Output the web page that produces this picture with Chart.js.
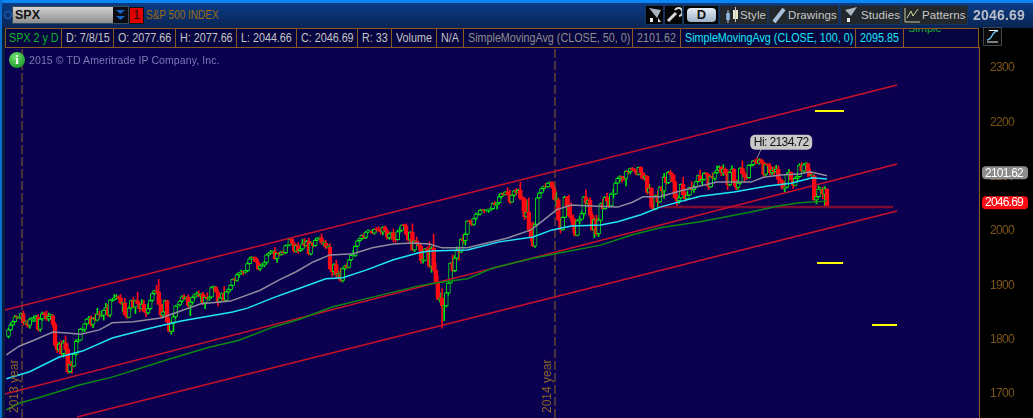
<!DOCTYPE html>
<html>
<head>
<meta charset="utf-8">
<title>SPX</title>
<script src="https://cdn.jsdelivr.net/npm/chart.js@4"></script>
<style>
html,body{margin:0;padding:0;background:#000;width:1033px;height:418px;overflow:hidden;font-family:"Liberation Sans",Arial,sans-serif}
#wrap{position:relative;width:1033px;height:418px;overflow:hidden}
canvas{position:absolute;left:0;top:0}
.a{position:absolute;white-space:nowrap}
#head{left:0;top:0;width:1033px;height:28px;background:linear-gradient(#0b3f8c,#0a2554)}
#stripe{left:0;top:0;width:1033px;height:3px;background:#0a86f2}
#lstripe{left:0;top:0;width:2px;height:418px;background:#0a6fd0}
#lfill{left:2px;top:28px;width:3px;height:390px;background:#08203f}
#row{left:5px;top:28px;width:974px;height:19px;background:#07053f}
.cell{position:absolute;top:28px;height:18px;border:1px solid #8a5a20;border-width:1px 1px 1px 0;font-size:12.5px;line-height:18px;color:#c4c4c4;padding-left:4px;overflow:hidden;white-space:nowrap}
.s{display:inline-block;transform:scaleX(.86);transform-origin:0 50%}
.btn{position:absolute;top:6px;height:18px;background:#23282c;color:#c8c8c8;font-size:11.5px;letter-spacing:.1px;line-height:18px;white-space:nowrap;box-shadow:0 0 0 1px #16345c}
</style>
</head>
<body>
<div id="wrap">
<canvas id="c" width="1033" height="418"></canvas>
<div class="a" id="head"></div>
<div class="a" id="stripe"></div>
<div class="a" id="lstripe"></div>
<div class="a" id="lfill"></div>
<div class="a" style="left:4px;top:11px;width:6px;height:6px;border:1px solid #1f6fd0;border-radius:50%"></div>
<div class="a" style="left:13px;top:7px;width:115px;height:16px;background:linear-gradient(#d2d2d2,#8e8e8e);box-shadow:0 0 0 1px #3a4a5a;font-weight:bold;font-size:12.5px;line-height:16px;color:#111;padding-left:2px;box-sizing:border-box">SPX</div>
<div class="a" style="left:113px;top:7px;width:15px;height:16px;background:#0c0c14">
 <svg width="15" height="16"><path d="M3 3h9l-4.5 4zM3 9h9l-4.5 4z" fill="#1a66c8"/></svg>
</div>
<div class="a" style="left:130px;top:8px;width:13px;height:15px;background:#e00000;box-shadow:0 0 0 1px #111;color:#111;font-size:12.5px;line-height:15px;text-align:center">1</div>
<div class="a" style="left:146px;top:8px;font-size:12.5px;line-height:15px;color:#9c6a10;transform:scaleX(.8);transform-origin:0 50%">S&amp;P 500 INDEX</div>

<div class="a" id="row"></div>
<div class="a" style="left:5px;top:28px;width:1px;height:19px;background:#8a5a20"></div>
<div class="cell" style="left:5px;width:52px;color:#0fb02a"><span class="s">SPX 2 y D</span></div>
<div class="cell" style="left:62px;width:47px"><span class="s">D: 7/8/15</span></div>
<div class="cell" style="left:114px;width:57px"><span class="s">O: 2077.66</span></div>
<div class="cell" style="left:176px;width:56px"><span class="s">H: 2077.66</span></div>
<div class="cell" style="left:237px;width:55px"><span class="s">L: 2044.66</span></div>
<div class="cell" style="left:297px;width:56px"><span class="s">C: 2046.69</span></div>
<div class="cell" style="left:358px;width:29px"><span class="s">R: 33</span></div>
<div class="cell" style="left:392px;width:40px"><span class="s">Volume</span></div>
<div class="cell" style="left:437px;width:22px"><span class="s">N/A</span></div>
<div class="cell" style="left:464px;width:164px;color:#8c8c8c"><span class="s">SimpleMovingAvg (CLOSE, 50, 0)</span></div>
<div class="cell" style="left:633px;width:43px;color:#8c8c8c"><span class="s">2101.62</span></div>
<div class="cell" style="left:681px;width:170px;color:#14e6f5"><span class="s">SimpleMovingAvg (CLOSE, 100, 0)</span></div>
<div class="cell" style="left:856px;width:43px;color:#14e6f5"><span class="s">2095.85</span></div>
<div class="cell" style="left:904px;width:70px;background:#07053f;color:#0fb02a;line-height:6px;font-size:11px"><span style="position:relative;top:-4px">Simple</span></div>

<div class="a" style="left:9px;top:52px;width:16px;height:16px;border-radius:50%;background:radial-gradient(circle at 40% 30%,#6fe06f,#0a8a1a);color:#fff;font:bold 13px/16px 'Liberation Serif',serif;text-align:center">i</div>
<div class="a" style="left:29px;top:53px;font-size:10.5px;line-height:14px;letter-spacing:.1px;color:#7e78b4">2015 © TD Ameritrade IP Company, Inc.</div>

<div class="btn" style="left:646px;width:17px;background:#050505"><svg width="17" height="18"><path d="M3 2l12 2-4 8z" fill="#a8b4c0"/><path d="M4 12h3v4H4zM12 12l3 4h-3z" fill="#e8e8e8"/></svg></div>
<div class="btn" style="left:665px;width:17px;background:#050505"><svg width="17" height="18"><path d="M3 15L11 7" stroke="#d8d8d8" stroke-width="3"/><path d="M10 4a4 4 0 1 1 4 6" stroke="#d8d8d8" stroke-width="2" fill="none"/></svg></div>
<div class="btn" style="left:684px;width:34px;background:#050505"><div style="position:absolute;left:3px;top:2px;width:29px;height:14px;border-radius:4px;background:linear-gradient(#e6edf5,#9fb2c8);color:#111;font:bold 13px/14px 'Liberation Sans';text-align:center">D</div></div>
<div class="btn" style="left:720px;width:47px"><svg width="20" height="18" style="position:absolute;left:2px;top:0"><rect x="4" y="7" width="4" height="7" fill="#6aa0d0"/><rect x="11" y="4" width="5" height="9" fill="#e8e8c8"/><path d="M6 4v13M13.500 1v15" stroke="#c8c8c8"/></svg><span style="position:absolute;left:20px">Style</span></div>
<div class="btn" style="left:769px;width:69px"><svg width="18" height="18" style="position:absolute;left:2px;top:0"><path d="M3 16L13 3" stroke="#a8c0d8" stroke-width="4"/></svg><span style="position:absolute;left:19px">Drawings</span></div>
<div class="btn" style="left:841px;width:59px"><svg width="16" height="18" style="position:absolute;left:2px;top:0"><path d="M2 4l12-3-6 9z" fill="#a8b4c0"/><path d="M4 12h3v4H4z" fill="#e8e8e8"/></svg><span style="position:absolute;left:20px">Studies</span></div>
<div class="btn" style="left:902px;width:65px"><svg width="18" height="18" style="position:absolute;left:2px;top:0"><path d="M1 2v14h15" stroke="#c8c8a0" fill="none"/><path d="M3 12l4-7 2 5 5-7" stroke="#d8d8a0" fill="none"/></svg><span style="position:absolute;left:20px">Patterns</span></div>
<div class="a" style="left:973px;top:7px;font:bold 14px/16px 'Liberation Sans';letter-spacing:.2px;color:#b8bcc4">2046.69</div>
<div class="a" style="left:984px;top:28px;width:17px;height:17px;background:#0a0a0a;box-shadow:0 0 0 1px #3c4650">
 <svg width="17" height="17"><path d="M3 12c6 0 4-9 11-9" stroke="#6ac0f0" stroke-width="1.500" fill="none"/><path d="M3 14h11M5 2.500h9" stroke="#f0f0f0"/></svg>
</div>
</div>
<script>
// daily closes, Dec 2013 .. Jul 2015
const firstOpen = 1806;
const closes = [
 1818,1827,1833,1842,1841,1841,1848,
 1831,1831,1826,1837,1837,1838,1842,1819,1838,1848,1845,1838,1843,1844,1828,1790,1781,1792,1774,1794,1782,
 1741,1755,1751,1773,1797,1799,1819,1819,1829,1838,1840,1828,1839,1836,1847,1845,1845,1854,1859,
 1845,1873,1873,1877,1878,1877,1867,1868,1846,1841,1858,1872,1860,1872,1866,1857,1865,1852,1849,1857,1872,
 1885,1890,1888,1865,1845,1851,1872,1833,1815,1830,1842,1862,1864,1871,1879,1875,1878,1863,1869,1878,1883,
 1883,1881,1884,1867,1878,1875,1878,1896,1897,1888,1870,1877,1885,1872,1888,1892,1900,1911,1909,1920,1923,
 1925,1924,1927,1940,1949,1951,1950,1943,1930,1936,1937,1942,1956,1959,1962,1962,1949,1959,1957,1961,1960,
 1973,1974,1985,1977,1963,1973,1964,1967,1977,1973,1981,1958,1978,1973,1983,1987,1988,1978,1978,1970,1970,1930,
 1925,1938,1920,1920,1909,1931,1936,1933,1947,1955,1955,1972,1982,1986,1992,1988,1998,2000,2000,1996,2003,
 2002,2001,1998,2007,2001,1988,1995,1997,1985,1984,1999,2001,2011,2010,1994,1983,1998,1965,1982,1977,1972,
 1946,1946,1967,1964,1935,1968,1928,1906,1874,1877,1862,1862,1886,1904,1941,1927,1950,1964,1961,1985,1982,1994,2018,
 2017,2012,2023,2031,2031,2038,2039,2038,2039,2039,2041,2051,2048,2052,2063,2069,2067,2072,2067,
 2053,2066,2074,2071,2075,2060,2059,2026,2035,2002,1989,1972,2012,2061,2070,2078,2082,2081,2088,2090,2080,2058,
 2058,2020,2002,2025,2062,2044,2028,2023,2011,1992,2019,2022,2032,2063,2051,2057,2029,2002,2021,1995,
 2020,2050,2041,2062,2055,2046,2068,2068,2088,2097,2100,2099,2097,2110,2109,2115,2113,2110,2104,
 2117,2107,2098,2101,2071,2079,2044,2040,2065,2053,2081,2074,2099,2089,2108,2104,2091,2061,2056,2061,2086,2067,
 2059,2066,2080,2076,2081,2091,2102,2092,2095,2106,2104,2081,2100,2097,2107,2112,2117,2108,2114,2106,2085,
 2108,2114,2089,2080,2088,2116,2105,2099,2098,2121,2122,2129,2127,2125,2131,2126,2104,2123,2120,2107,
 2112,2109,2114,2095,2092,2079,2080,2105,2108,2094,2084,2097,2100,2121,2110,2122,2124,2108,2102,2102,2057,2063,
 2077,2077,2068,2077.66,2046.69
];
const upperWicks = [
 3,4,2,3,2,2,1,
 5,4,5,3,4,6,3,4,2,3,3,8,6,3,2,4,6,3,6,5,13,
 11,6,5,1,3,2,1,3,1,1,3,4,2,8,11,5,7,1,8,
 6,1,2,6,5,3,6,1,8,2,3,1,6,1,15,3,9,8,4,9,2,
 1,1,10,23,9,3,1,1,6,4,5,1,2,1,2,4,1,4,6,1,1,
 5,7,1,3,1,8,2,2,2,1,4,1,1,13,1,2,1,1,3,1,1,
 3,1,1,2,3,2,1,2,4,3,3,2,1,1,2,1,8,1,2,2,3,
 1,1,1,2,3,2,6,5,8,9,2,6,2,1,1,1,1,7,4,5,5,7,
 6,2,8,6,12,1,1,4,1,1,9,1,1,1,1,3,2,2,1,3,1,
 4,6,5,1,2,2,1,1,7,1,3,6,1,1,3,3,1,15,1,7,1,
 2,7,1,4,16,3,26,13,12,9,17,13,1,1,1,15,5,7,5,1,8,3,1,
 2,4,1,2,3,1,1,1,1,1,2,1,3,1,4,1,1,1,8,
 8,1,1,4,2,15,4,3,22,26,14,27,3,1,1,1,1,6,1,1,1,3,
 14,3,4,1,2,2,22,24,7,11,2,4,4,1,13,1,4,5,3,8,
 4,2,9,2,8,7,2,9,2,1,2,1,1,1,1,1,2,2,4,
 1,1,1,2,1,7,1,6,1,9,1,1,7,1,2,4,3,12,9,4,1,13,
 5,6,1,11,4,1,1,10,3,2,2,1,1,7,2,8,3,2,8,2,5,
 1,6,1,5,5,1,13,6,7,1,1,1,3,7.72,2,2,2,1,1,5,
 5,6,7,6,3,2,10,2,5,1,1,3,6,3,5,2,2,1,6,1,1,4,
 6,3,4,4,0
];
const lowerWicks = [
 3,2,2,1,2,2,3,
 4,3,3,5,4,4,4,3,4,3,6,3,4,6,5,3,5,3,3,6,6,
 3,2,13,1,2,2,1,3,4,2,2,3,6,1,2,6,3,9,7,
 2,3,3,1,3,3,2,15,1,2,1,2,1,12,1,6,1,1,7,2,2,
 2,2,2,1,4,5,1,1,1,5,15,3,2,2,3,1,2,3,19,3,3,
 4,2,12,2,10,2,3,1,4,1,8,2,2,1,2,2,1,1,1,2,5,
 3,5,2,2,1,2,6,1,1,3,2,3,3,2,1,3,1,7,3,2,3,
 2,2,1,1,3,2,5,2,2,3,1,2,2,3,1,1,2,2,5,3,1,1,
 8,6,5,8,2,3,3,1,1,2,1,2,1,2,2,2,2,1,1,1,2,
 3,1,4,5,1,3,3,10,5,5,1,2,1,4,2,2,5,1,3,2,6,
 5,5,1,12,2,11,2,1,1,5,41,27,2,4,1,1,2,2,15,1,5,8,1,
 3,2,2,3,2,2,1,5,2,5,2,1,1,8,2,3,2,1,1,
 3,1,3,5,1,3,22,5,1,3,7,1,2,1,1,1,4,1,1,2,2,1,
 12,1,6,1,1,3,2,6,13,1,1,6,1,5,1,5,5,1,14,3,
 5,3,1,1,3,3,1,7,1,1,6,9,4,14,4,4,2,2,1,
 1,10,3,5,3,1,3,1,1,8,1,9,14,3,2,1,1,1,11,5,1,1,
 4,1,1,1,5,2,1,1,8,1,5,5,1,1,4,1,1,6,6,3,9,
 2,2,5,4,3,2,1,9,3,1,2,2,4,1,2,2,5,2,6,4,
 3,6,2,9,7,2,7,1,1,1,6,1,6,1,1,2,1,8,1,5,1,7,
 1,7,9,24,2
];
// moving averages, read at bar positions off the picture
const sma50X = [-1,5,12,21,29,34,43,49,59,72,80,91,105,119,128,136,144,152,163,172,182,191,199,205,217,236,247,253,259,266,275,288,295,300,308,318,327,335,351,357,365,374,379,387];
const sma50Y = [1772,1788,1799,1814,1812,1810,1818,1831,1833,1840,1851,1866,1871,1891,1910,1925,1943,1956,1958,1969,1976,1978,1976,1969,1969,1987,2002,2020,2039,2048,2046,2044,2053,2063,2063,2074,2083,2090,2090,2099,2103,2105,2109,2101.62];
const sma100X = [-1,10,24,35,49,66,81,87,106,113,125,138,150,158,169,182,194,199,217,232,248,257,266,280,288,299,308,327,343,359,370,380,387];
const sma100Y = [1728,1741,1768,1779,1803,1820,1834,1838,1851,1858,1877,1895,1912,1914,1928,1947,1960,1963,1965,1980,1989,2002,2009,2011,2017,2030,2044,2064,2072,2083,2088,2098,2095.85];
const sma200X = [-1,5,15,34,49,75,94,109,125,138,153,176,194,201,217,229,248,261,280,295,308,327,351,364,374,387];
const sma200Y = [1671,1683,1694,1717,1731,1763,1785,1799,1823,1838,1860,1882,1899,1904,1912,1932,1950,1960,1974,1993,2006,2017,2035,2046,2052,2055];
// drawn trend lines: [bar, price] ends
const channelTopX = [-1.7,420.1];   const channelTopY = [1854.6,2268.7];
const channelMidX = [-1.7,420.1];   const channelMidY = [1700,2123.3];
const channelLowX = [32.4,420.1];   const channelLowY = [1657.7,2036.8];
const supportX = [307,418.2];       const supportY = [2044.2,2044.2];
const targetAX = [381.3,395];       const targetAY = [2220.9,2220.9];
const targetBX = [382.3,394.6];     const targetBY = [1941.1,1941.1];
const targetCX = [408.3,420.1];     const targetCY = [1827,1827];
const yearMarkX = [6.4,258.4];
const yearMarkText = ['2013 year','2014 year'];
const yTicks = [1700,1800,1900,2000,2100,2200,2300];
const highBar = 354, highValue = 2134.72;
const lastSma = 2101.62, lastClose = 2046.69;

const NAVY='#0a004f', GREEN='#00e60f', RED='#fb0a14', BROWN='#8a5a20';
const FONT='"Liberation Sans"';
const opens = closes.map((c,i)=> i?closes[i-1]:firstOpen);
const highs = closes.map((c,i)=> Math.max(c,opens[i])+upperWicks[i]);
const lows  = closes.map((c,i)=> Math.min(c,opens[i])-lowerWicks[i]);
const isUp  = closes.map((c,i)=> c>=opens[i]);
const pts = (xs,ys)=> xs.map((x,i)=>({x,y:ys[i]}));
const line = (xs,ys,color,w,order,extra)=>Object.assign({type:'line',data:pts(xs,ys),borderColor:color,borderWidth:w,pointRadius:0,tension:0,order,fill:false},extra||{});

const Y_MIN=1655.8, Y_MAX=2338.7;
const marks = {
 id:'marks',
 beforeDraw(ch){
  const a=ch.chartArea,c=ch.ctx;
  c.save();c.fillStyle=NAVY;c.fillRect(a.left,a.top,a.right-a.left,a.bottom-a.top);c.restore();
  c.letterSpacing='-.7px';
 },
 afterDraw(ch){
  const c=ch.ctx,x=ch.scales.x,y=ch.scales.y;
  c.letterSpacing='0px';
  // rotated year labels
  c.save();
  c.font='12px '+FONT;c.fillStyle='#8a6428';c.textAlign='left';c.textBaseline='middle';
  yearMarkX.forEach((v,i)=>{
   c.save();c.translate(x.getPixelForValue(v)-7,413);c.rotate(-Math.PI/2);c.fillText(yearMarkText[i],0,0);c.restore();
  });
  c.restore();
  // price pills
  const pill=(v,bg,fg)=>{
   const py=y.getPixelForValue(v)-3;
   c.save();c.fillStyle=bg;c.beginPath();c.roundRect(982,py-6.5,46,13,4);c.fill();
   c.fillStyle=fg;c.font='12px '+FONT;c.textAlign='center';c.textBaseline='middle';
   c.letterSpacing='-.8px';
   c.fillText(v.toFixed(2),1004,py+.5);c.restore();
  };
  pill(lastSma,'#8c8c8c','#fff');
  pill(lastClose,'#fb0a14','#fff');
  // high callout
  const hx=x.getPixelForValue(highBar),hy=y.getPixelForValue(highValue);
  c.save();
  c.strokeStyle='#8c8c8c';c.beginPath();c.moveTo(hx,hy);c.lineTo(hx+4,hy-9);c.stroke();
  c.fillStyle='#c8c8c8';c.beginPath();c.roundRect(hx-7,hy-23,62,15,5);c.fill();
  c.fillStyle='#111';c.font='12px '+FONT;c.textAlign='center';c.textBaseline='middle';
  c.letterSpacing='-.6px';
  c.fillText('Hi: '+highValue.toFixed(2),hx+24,hy-15);
  c.restore();
  c.letterSpacing='0px';
 }
};

new Chart(document.getElementById('c'),{
 data:{datasets:[
  {type:'bar',data:closes.map((c,i)=>({x:i,y:[lows[i],highs[i]]})),barThickness:1,grouped:false,
   backgroundColor:isUp.map(u=>u?GREEN:RED),borderWidth:0,order:10},
  {type:'bar',data:closes.map((c,i)=>({x:i,y:[opens[i],c]})),barThickness:4,grouped:false,minBarLength:1,
   backgroundColor:isUp.map(u=>u?NAVY:RED),borderColor:isUp.map(u=>u?GREEN:RED),borderWidth:1,borderSkipped:false,order:9},
  line(channelTopX,channelTopY,'#c8102c',1.6,5),
  line(channelMidX,channelMidY,'#c8102c',1.6,5),
  line(channelLowX,channelLowY,'#c8102c',1.6,5),
  line(supportX,supportY,'#7e0a34',2.5,6),
  line(sma200X,sma200Y,'#0c8a14',1.5,4),
  line(sma100X,sma100Y,'#22e6f8',1.5,3),
  line(sma50X,sma50Y,'#8e8c9c',1.5,2),
  line(targetAX,targetAY,'#ffff00',2,1),
  line(targetBX,targetBY,'#ffff00',2,1),
  line(targetCX,targetCY,'#ffff00',2,1),
  line([yearMarkX[0],yearMarkX[0]],[Y_MIN,Y_MAX],'#8a6428',1,7,{borderDash:[9,3]}),
  line([yearMarkX[1],yearMarkX[1]],[Y_MIN,Y_MAX],'#8a6428',1,7,{borderDash:[9,3]})
 ]},
 options:{
  responsive:false,animation:false,devicePixelRatio:1,
  layout:{padding:{left:5,top:47,right:0,bottom:0}},
  plugins:{legend:{display:false},tooltip:{enabled:false},title:{display:false}},
  scales:{
   x:{type:'linear',display:false,min:(5-8.5)/2.115,max:(979-8.5)/2.115,offset:false},
   y:{type:'linear',position:'right',min:Y_MIN,max:Y_MAX,
    grid:{display:false},
    border:{color:BROWN,width:1},
    afterFit(s){s.width=54;s.paddingTop=0;s.paddingBottom=0;},
    afterBuildTicks(s){s.ticks=yTicks.map(v=>({value:v}));},
    ticks:{color:'#7d5518',padding:3,font:{family:FONT,size:12},callback:v=>String(v)}
   }
  }
 },
 plugins:[marks]
});
</script>
</body>
</html>
